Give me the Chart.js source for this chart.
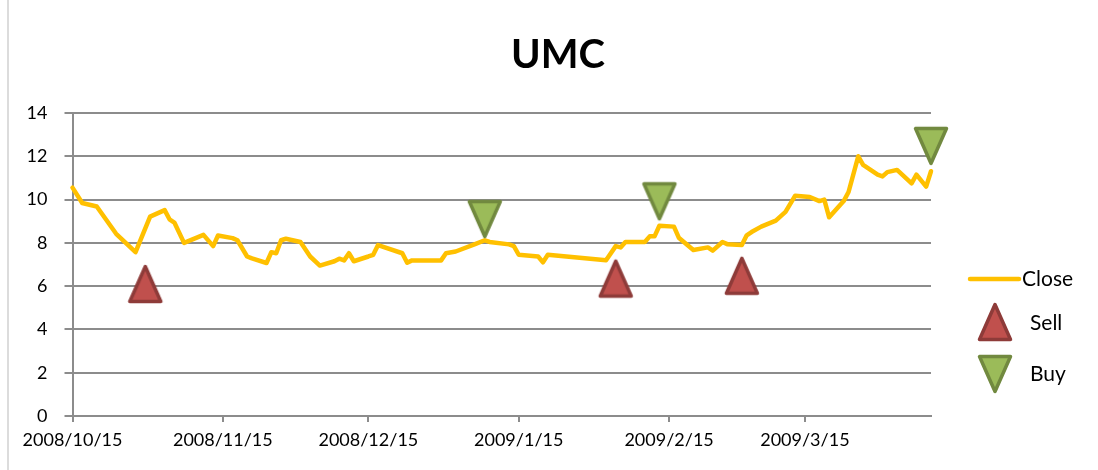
<!DOCTYPE html>
<html>
<head>
<meta charset="utf-8">
<script src="https://cdn.jsdelivr.net/npm/chart.js@4"></script>
<style>
html,body{margin:0;padding:0;background:#fff;}
#wrap{width:1098px;height:470px;position:relative;}
</style>
</head>
<body>
<div id="wrap"><canvas id="c" width="1098" height="470"></canvas></div>
<script>
const chartTitle = "UMC";
const tickLabels = ["2008/10/15","2008/11/15","2008/12/15","2009/1/15","2009/2/15","2009/3/15"];
const yTicks = [0,2,4,6,8,10,12,14];

const closeDates = ["2008/10/15","2008/10/17","2008/10/20","2008/10/24","2008/10/28","2008/10/31","2008/11/3","2008/11/4","2008/11/5","2008/11/7",
"2008/11/11","2008/11/13","2008/11/14","2008/11/17","2008/11/18","2008/11/20","2008/11/21","2008/11/24","2008/11/25","2008/11/26",
"2008/11/27","2008/11/28","2008/12/1","2008/12/3","2008/12/5","2008/12/8","2008/12/9","2008/12/10","2008/12/11","2008/12/12",
"2008/12/15","2008/12/16","2008/12/17","2008/12/22","2008/12/23","2008/12/24","2008/12/30","2008/12/31","2009/1/2","2009/1/6",
"2009/1/8","2009/1/9","2009/1/13","2009/1/14","2009/1/15","2009/1/19","2009/1/20","2009/1/21","2009/2/2","2009/2/4",
"2009/2/5","2009/2/6","2009/2/10","2009/2/11","2009/2/12","2009/2/13","2009/2/16","2009/2/17","2009/2/20","2009/2/23",
"2009/2/24","2009/2/26","2009/2/27","2009/3/2","2009/3/3","2009/3/4","2009/3/6","2009/3/9","2009/3/11","2009/3/13",
"2009/3/16","2009/3/18","2009/3/19","2009/3/20","2009/3/23","2009/3/24","2009/3/26","2009/3/27","2009/3/30","2009/3/31",
"2009/4/1","2009/4/3","2009/4/6","2009/4/7","2009/4/9","2009/4/10"];
const closeValues = [10.55,9.84,9.68,8.42,7.57,9.21,9.51,9.09,8.94,8.00,
8.37,7.85,8.34,8.22,8.12,7.37,7.28,7.07,7.57,7.52,
8.12,8.19,8.04,7.37,6.95,7.15,7.27,7.19,7.52,7.15,
7.37,7.45,7.90,7.52,7.08,7.19,7.19,7.52,7.60,7.94,
8.12,8.04,7.93,7.85,7.45,7.37,7.10,7.45,7.20,7.85,
7.79,8.04,8.04,8.30,8.30,8.79,8.75,8.24,7.67,7.79,
7.64,8.04,7.94,7.90,8.35,8.50,8.75,9.03,9.43,10.18,
10.12,9.93,10.00,9.18,9.93,10.35,12.00,11.60,11.15,11.07,
11.27,11.37,10.75,11.15,10.60,11.31];

const sellDates = ["2008/10/30","2009/2/4","2009/3/2"];
const sellValues = [6.1,6.35,6.48];
const buyDates = ["2009/1/8","2009/2/13","2009/4/10"];
const buyValues = [9.1,9.92,12.48];

const seriesNames = ["Close","Sell","Buy"];

function dayOf(s){
  const p = s.split('/').map(Number);
  return Math.round((Date.UTC(p[0],p[1]-1,p[2]) - Date.UTC(2008,9,15)) / 86400000);
}
function pts(dates, vals){ return dates.map((d,i)=>({x:dayOf(d), y:vals[i]})); }

function makeTri(fill, stroke, down){
  const w = 34, h = 38, m = 3;
  const cv = document.createElement('canvas');
  cv.width = w + 2*m; cv.height = h + 2*m;
  const g = cv.getContext('2d');
  g.beginPath();
  if (!down){
    g.moveTo(m + w/2, m + 1.5); g.lineTo(m + w - 1.5, m + h - 1.5); g.lineTo(m + 1.5, m + h - 1.5);
  } else {
    g.moveTo(m + 1.5, m + 1.5); g.lineTo(m + w - 1.5, m + 1.5); g.lineTo(m + w/2, m + h - 1.5);
  }
  g.closePath();
  g.fillStyle = fill; g.fill();
  g.lineJoin = 'round'; g.lineWidth = 3.5; g.strokeStyle = stroke; g.stroke();
  return cv;
}
const sellImg = makeTri('#C0504D', '#8E3B39', false);
const buyImg = makeTri('#9BBB59', '#71893F', true);

const FONT = "Lato, 'Open Sans', sans-serif";
const GRID = '#8c8c8c';

const legendPlugin = {
  id: 'excelLegend',
  afterDraw(chart){
    const ctx = chart.ctx;
    const ds = chart.data.datasets;
    ctx.save();
    ctx.font = "21px " + FONT;
    ctx.fillStyle = '#000';
    ctx.textBaseline = 'middle';
    ctx.textAlign = 'left';
    ctx.strokeStyle = ds[0].borderColor; ctx.lineWidth = 4.5; ctx.lineCap = 'round';
    ctx.beginPath(); ctx.moveTo(970, 279); ctx.lineTo(1019, 279); ctx.stroke();
    ctx.fillText(ds[0].label, 1022, 279);
    const s = ds[1].pointStyle, b = ds[2].pointStyle;
    ctx.drawImage(s, 995 - s.width/2, 322 - s.height/2);
    ctx.fillText(ds[1].label, 1030, 323);
    ctx.drawImage(b, 995 - b.width/2, 374 - b.height/2);
    ctx.fillText(ds[2].label, 1030, 374);
    ctx.strokeStyle = '#d0d0d0'; ctx.lineWidth = 1.5; ctx.lineCap = 'butt';
    ctx.beginPath(); ctx.moveTo(8, 0); ctx.lineTo(8, 470); ctx.stroke();
    ctx.restore();
  }
};

const xTickDays = tickLabels.map(dayOf);
const lastDay = dayOf(closeDates[closeDates.length-1]);

new Chart(document.getElementById('c'), {
  type: 'line',
  data: {
    datasets: [
      { label: seriesNames[0], data: pts(closeDates, closeValues), borderColor: '#FFC000', borderWidth: 4.5,
        pointRadius: 0, tension: 0, borderJoinStyle: 'round', borderCapStyle: 'round', order: 2, clip: false },
      { label: seriesNames[1], data: pts(sellDates, sellValues), showLine: false, pointStyle: sellImg,
        pointRadius: 18, borderWidth: 0, order: 1, clip: false },
      { label: seriesNames[2], data: pts(buyDates, buyValues), showLine: false, pointStyle: buyImg,
        pointRadius: 18, borderWidth: 0, order: 1, clip: false }
    ]
  },
  options: {
    responsive: false,
    animation: false,
    events: [],
    layout: { padding: { left: 18, right: 0, top: 0, bottom: 0 } },
    plugins: {
      legend: { display: false },
      tooltip: { enabled: false },
      title: { display: true, text: chartTitle, color: '#000',
        font: { family: FONT, size: 40, weight: 'bold', lineHeight: 1.2 },
        padding: { top: 31, bottom: 34 } }
    },
    scales: {
      x: {
        type: 'linear', min: 0, max: lastDay,
        afterBuildTicks(axis){ axis.ticks = xTickDays.map(v => ({ value: v })); },
        afterFit(axis){ axis.height = 54; },
        ticks: { autoSkip: false, maxRotation: 0, padding: 7, color: '#000',
          font: { family: FONT, size: 18 },
          callback: (v, i) => tickLabels[i] },
        grid: { drawOnChartArea: false, drawTicks: true, tickLength: 6, color: GRID, lineWidth: 2 },
        border: { display: true, color: GRID, width: 2 }
      },
      y: {
        min: 0, max: 14,
        afterBuildTicks(axis){ axis.ticks = yTicks.map(v => ({ value: v })); },
        afterFit(axis){ axis.width = 54.5; },
        ticks: { padding: 17, color: '#000', font: { family: FONT, size: 18 } },
        grid: { color: GRID, lineWidth: 2, tickLength: 8 },
        border: { display: true, color: GRID, width: 2 }
      },
      yr: {
        position: 'right', display: true,
        afterFit(axis){ axis.width = 167; },
        ticks: { display: false },
        grid: { display: false, drawTicks: false },
        border: { display: false }
      }
    }
  },
  plugins: [legendPlugin]
});
</script>
</body>
</html>
